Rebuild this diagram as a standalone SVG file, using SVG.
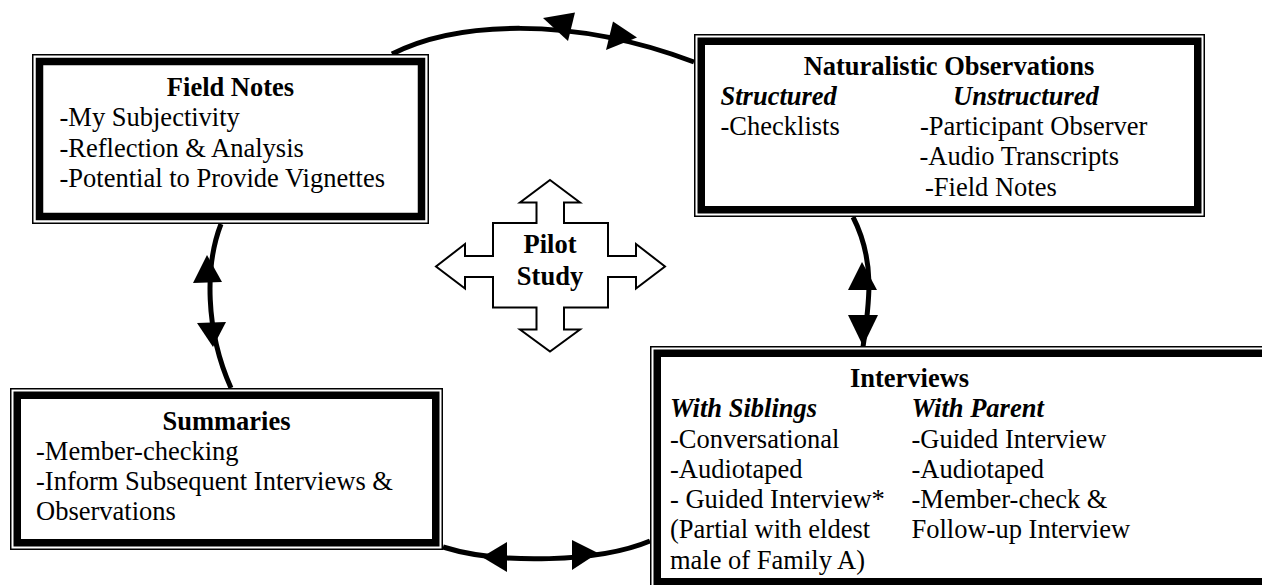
<svg xmlns="http://www.w3.org/2000/svg" width="1262" height="585" viewBox="0 0 1262 585">
<style>
text{font-size:26.5px;fill:#000}
.b{font-weight:bold}
.bi{font-weight:bold;font-style:italic}
.mid{text-anchor:middle}
.thin{fill:#fff;stroke:#000;stroke-width:1.5}
.thick{fill:none;stroke:#000;stroke-width:7.5}
.arc{fill:none;stroke:#000;stroke-width:5}
.head{fill:#000;stroke:none}
</style>
<rect width="1262" height="585" fill="#fff"/>
<g id="connectors">
<path class="arc" d="M392,54 C455,22 570,15 694,62"/>
<polygon class="head" points="543,18 575,12.5 568,41"/>
<polygon class="head" points="613,21.5 606,50 637,37.5"/>
<path class="arc" d="M221,224 C205,265 205,330 231,388"/>
<polygon class="head" points="207,255 193,283 222,282"/>
<polygon class="head" points="213,347 197,323 226,322"/>
<path class="arc" d="M853,217 C875,260 870,300 863,347"/>
<polygon class="head" points="862,262 848,290 877,290"/>
<polygon class="head" points="863,346 848,315 878,315"/>
<path class="arc" d="M443,547 C500,565 600,562 650,541"/>
<polygon class="head" points="482,557 507,542 507,572"/>
<polygon class="head" points="598,553 572,540 572,570"/>
</g>
<g font-family="Liberation Serif, Times New Roman, DejaVu Serif, serif">
<g id="field-notes">
<rect class="thin" x="32.75" y="54.75" width="395.5" height="168.5"/>
<rect class="thick" x="39.5" y="61.5" width="382" height="155"/>
<text class="b mid" x="230.5" y="95.5">Field Notes</text>
<text x="59.5" y="126">-My Subjectivity</text>
<text x="59.5" y="156.5">-Reflection &amp; Analysis</text>
<text x="59.5" y="187">-Potential to Provide Vignettes</text>
</g>
<g id="naturalistic-observations">
<rect class="thin" x="694.75" y="34.75" width="509.5" height="181.5"/>
<rect class="thick" x="701.25" y="41.25" width="496.5" height="168.5"/>
<text class="b mid" x="949" y="75">Naturalistic Observations</text>
<text class="bi" x="720.5" y="105">Structured</text>
<text class="bi" x="953" y="105">Unstructured</text>
<text x="720.5" y="135">-Checklists</text>
<text x="920" y="135">-Participant Observer</text>
<text x="919.5" y="165">-Audio Transcripts</text>
<text x="925" y="195.5">-Field Notes</text>
</g>
<g id="summaries">
<rect class="thin" x="10.75" y="388.75" width="431.5" height="160.5"/>
<rect class="thick" x="17.25" y="395.25" width="418.5" height="147.5"/>
<text class="b mid" x="226.5" y="429.5">Summaries</text>
<text x="36" y="459.5">-Member-checking</text>
<text x="36" y="490">-Inform Subsequent Interviews &amp;</text>
<text x="36" y="520">Observations</text>
</g>
<g id="interviews">
<rect class="thin" x="650.75" y="346.75" width="660" height="241.5"/>
<rect class="thick" x="657.25" y="353.25" width="645" height="228.5"/>
<text class="b mid" x="909.5" y="386.5">Interviews</text>
<text class="bi" x="670" y="417">With Siblings</text>
<text class="bi" x="911.5" y="417">With Parent</text>
<text x="670" y="447.5">-Conversational</text>
<text x="911.5" y="447.5">-Guided Interview</text>
<text x="670" y="477.5">-Audiotaped</text>
<text x="911.5" y="477.5">-Audiotaped</text>
<text x="670" y="507.5">- Guided Interview*</text>
<text x="911.5" y="507.5">-Member-check &amp;</text>
<text x="670" y="538">(Partial with eldest</text>
<text x="911.5" y="538">Follow-up Interview</text>
<text x="670" y="568.5">male of Family A)</text>
</g>
<g id="pilot-study">
<polygon fill="#fff" stroke="#000" stroke-width="2" stroke-linejoin="miter" points="550,180 580,202.5 564,202.5 564,223 608,223 608,256 636,256 636,244 665,266.5 636,288.5 636,277 608,277 608,307.5 564,307.5 564,329.5 580,329.5 550,351.5 520,329.5 536.5,329.5 536.5,307.5 493,307.5 493,277 465,277 465,288.5 436,266.5 465,244 465,256 493,256 493,223 536.5,223 536.5,202.5 520,202.5"/>
<text class="b mid" x="550" y="253">Pilot</text>
<text class="b mid" x="550" y="285">Study</text>
</g>
</g>
</svg>
